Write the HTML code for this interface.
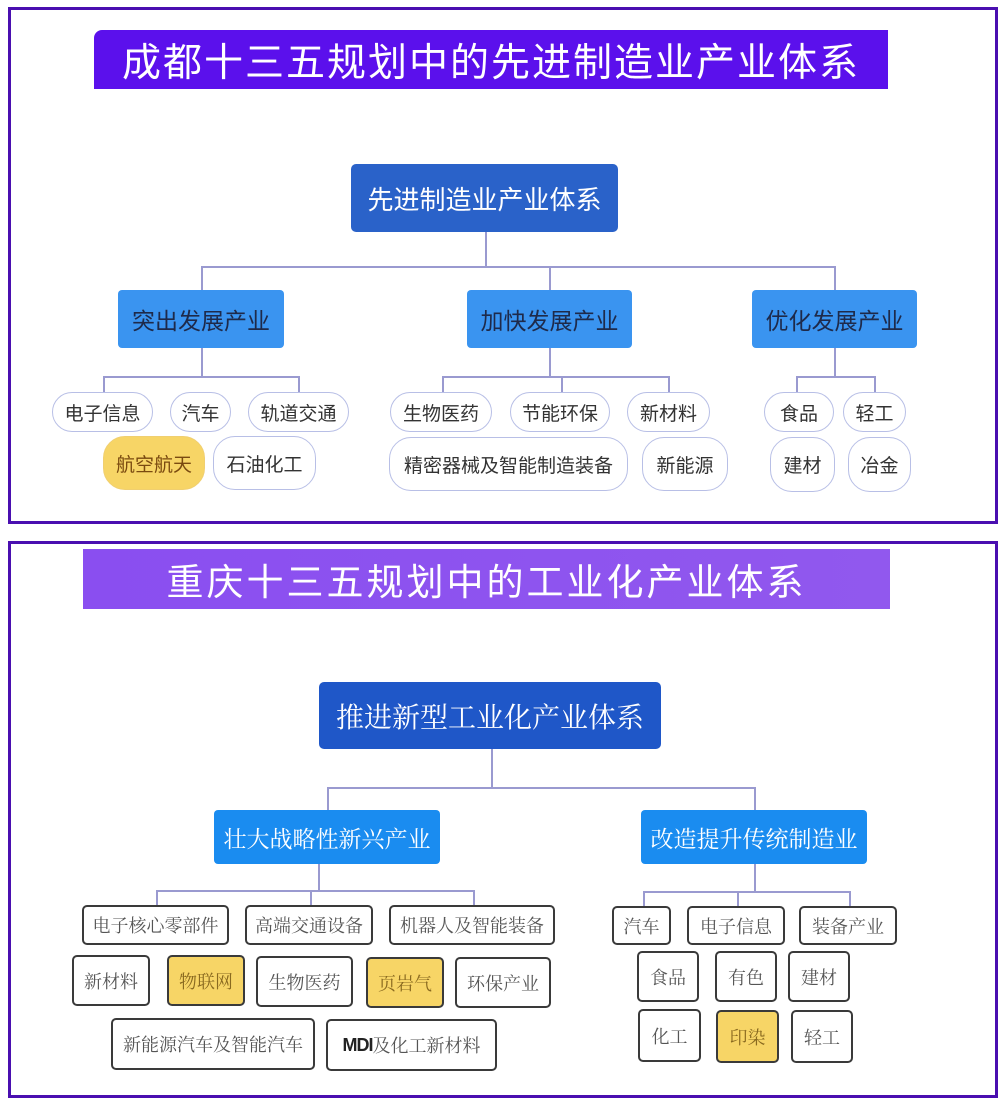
<!DOCTYPE html>
<html><head><meta charset="utf-8"><style>
*{margin:0;padding:0;box-sizing:border-box}
body{width:1005px;height:1113px;background:#fff;position:relative;overflow:hidden;font-family:"Liberation Sans","Noto Sans CJK SC",sans-serif}
.a{position:absolute;display:flex;align-items:center;justify-content:center;white-space:nowrap}
.fr{position:absolute;border:3px solid #4a0fb0}
.h{position:absolute;background:#9a9ad0;height:1.5px}
.v{position:absolute;background:#9a9ad0;width:1.5px}
.pill{border:1.5px solid #b8bfe6;border-radius:20px;background:#fff;color:#333;font-size:19px}
.y{background:#f7d566;border-color:#f0cf70;color:#7a4a10}
.bx{border:2px solid #3a3a3a;border-radius:5px;background:#fff;color:#555;font-size:18px;font-family:"Liberation Serif","Noto Serif CJK SC",serif}
.by{background:#f7d566;color:#8a6a20}
.l2{background:#3a94f0;border-radius:4px;color:#1e2a4a;font-size:23px}
.l2b{background:#1a8cf0;border-radius:4px;color:#fff;font-size:23px;font-family:"Liberation Serif","Noto Serif CJK SC",serif}
</style></head><body>
<div class="fr" style="left:8px;top:7px;width:990px;height:517px"></div>
<div class="a" style="left:94px;top:30px;width:794px;height:59px;background:#5b10ec;border-radius:8px 0 0 0;color:#fff;font-size:39px;letter-spacing:2px">成都十三五规划中的先进制造业产业体系</div>
<div class="a" style="left:351px;top:164px;width:267px;height:68px;background:#2a62c9;border-radius:5px;color:#fff;font-size:26px">先进制造业产业体系</div>
<div class="v" style="left:485px;top:232px;height:34px"></div>
<div class="h" style="left:201px;top:266px;width:634px"></div>
<div class="v" style="left:201px;top:266px;height:24px"></div>
<div class="v" style="left:549px;top:266px;height:24px"></div>
<div class="v" style="left:834px;top:266px;height:24px"></div>
<div class="a l2" style="left:118px;top:290px;width:166px;height:58px">突出发展产业</div>
<div class="a l2" style="left:467px;top:290px;width:165px;height:58px">加快发展产业</div>
<div class="a l2" style="left:752px;top:290px;width:165px;height:58px">优化发展产业</div>
<div class="v" style="left:201px;top:348px;height:28px"></div>
<div class="h" style="left:103px;top:376px;width:196px"></div>
<div class="v" style="left:103px;top:376px;height:16px"></div>
<div class="v" style="left:298px;top:376px;height:16px"></div>
<div class="v" style="left:549px;top:348px;height:28px"></div>
<div class="h" style="left:442px;top:376px;width:227px"></div>
<div class="v" style="left:442px;top:376px;height:16px"></div>
<div class="v" style="left:561px;top:376px;height:16px"></div>
<div class="v" style="left:668px;top:376px;height:16px"></div>
<div class="v" style="left:834px;top:348px;height:28px"></div>
<div class="h" style="left:796px;top:376px;width:79px"></div>
<div class="v" style="left:796px;top:376px;height:16px"></div>
<div class="v" style="left:874px;top:376px;height:16px"></div>
<div class="a pill" style="left:52px;top:392px;width:101px;height:40px">电子信息</div>
<div class="a pill" style="left:170px;top:392px;width:61px;height:40px">汽车</div>
<div class="a pill" style="left:248px;top:392px;width:101px;height:40px">轨道交通</div>
<div class="a pill y" style="left:103px;top:436px;width:102px;height:54px;border-radius:22px">航空航天</div>
<div class="a pill" style="left:213px;top:436px;width:103px;height:54px;border-radius:22px">石油化工</div>
<div class="a pill" style="left:390px;top:392px;width:102px;height:40px">生物医药</div>
<div class="a pill" style="left:510px;top:392px;width:100px;height:40px">节能环保</div>
<div class="a pill" style="left:627px;top:392px;width:83px;height:40px">新材料</div>
<div class="a pill" style="left:389px;top:437px;width:239px;height:54px;border-radius:22px">精密器械及智能制造装备</div>
<div class="a pill" style="left:642px;top:437px;width:86px;height:54px;border-radius:22px">新能源</div>
<div class="a pill" style="left:764px;top:392px;width:70px;height:40px">食品</div>
<div class="a pill" style="left:843px;top:392px;width:63px;height:40px">轻工</div>
<div class="a pill" style="left:770px;top:437px;width:65px;height:55px;border-radius:22px">建材</div>
<div class="a pill" style="left:848px;top:437px;width:63px;height:55px;border-radius:22px">冶金</div>

<div class="fr" style="left:8px;top:541px;width:990px;height:557px"></div>
<div class="a" style="left:83px;top:549px;width:807px;height:60px;background:linear-gradient(90deg,#8a4ef0,#9158ee);color:#fff;font-size:37px;letter-spacing:3px">重庆十三五规划中的工业化产业体系</div>
<div class="a" style="left:319px;top:682px;width:342px;height:67px;background:#1f57c8;border-radius:5px;color:#fff;font-size:28px;font-family:'Liberation Serif','Noto Serif CJK SC',serif">推进新型工业化产业体系</div>
<div class="v" style="left:491px;top:749px;height:38px"></div>
<div class="h" style="left:327px;top:787px;width:428px"></div>
<div class="v" style="left:327px;top:787px;height:23px"></div>
<div class="v" style="left:754px;top:787px;height:23px"></div>
<div class="a l2b" style="left:214px;top:810px;width:226px;height:54px">壮大战略性新兴产业</div>
<div class="a l2b" style="left:641px;top:810px;width:226px;height:54px">改造提升传统制造业</div>
<div class="v" style="left:318px;top:864px;height:26px"></div>
<div class="h" style="left:156px;top:890px;width:318px"></div>
<div class="v" style="left:156px;top:890px;height:15px"></div>
<div class="v" style="left:310px;top:890px;height:15px"></div>
<div class="v" style="left:473px;top:890px;height:15px"></div>
<div class="a bx" style="left:82px;top:905px;width:147px;height:40px">电子核心零部件</div>
<div class="a bx" style="left:245px;top:905px;width:128px;height:40px">高端交通设备</div>
<div class="a bx" style="left:389px;top:905px;width:166px;height:40px">机器人及智能装备</div>
<div class="a bx" style="left:72px;top:955px;width:78px;height:51px">新材料</div>
<div class="a bx by" style="left:167px;top:955px;width:78px;height:51px">物联网</div>
<div class="a bx" style="left:256px;top:956px;width:97px;height:51px">生物医药</div>
<div class="a bx by" style="left:366px;top:957px;width:78px;height:51px">页岩气</div>
<div class="a bx" style="left:455px;top:957px;width:96px;height:51px">环保产业</div>
<div class="a bx" style="left:111px;top:1018px;width:204px;height:52px">新能源汽车及智能汽车</div>
<div class="a bx" style="left:326px;top:1019px;width:171px;height:52px"><b style="font-family:'Liberation Sans',sans-serif;color:#222;letter-spacing:-1px">MDI</b>及化工新材料</div>
<div class="v" style="left:754px;top:864px;height:27px"></div>
<div class="h" style="left:643px;top:891px;width:207px"></div>
<div class="v" style="left:643px;top:891px;height:15px"></div>
<div class="v" style="left:737px;top:891px;height:15px"></div>
<div class="v" style="left:849px;top:891px;height:15px"></div>
<div class="a bx" style="left:612px;top:906px;width:59px;height:39px">汽车</div>
<div class="a bx" style="left:687px;top:906px;width:98px;height:39px">电子信息</div>
<div class="a bx" style="left:799px;top:906px;width:98px;height:39px">装备产业</div>
<div class="a bx" style="left:637px;top:951px;width:62px;height:51px">食品</div>
<div class="a bx" style="left:715px;top:951px;width:62px;height:51px">有色</div>
<div class="a bx" style="left:788px;top:951px;width:62px;height:51px">建材</div>
<div class="a bx" style="left:638px;top:1009px;width:63px;height:53px">化工</div>
<div class="a bx by" style="left:716px;top:1010px;width:63px;height:53px">印染</div>
<div class="a bx" style="left:791px;top:1010px;width:62px;height:53px">轻工</div>
</body></html>
